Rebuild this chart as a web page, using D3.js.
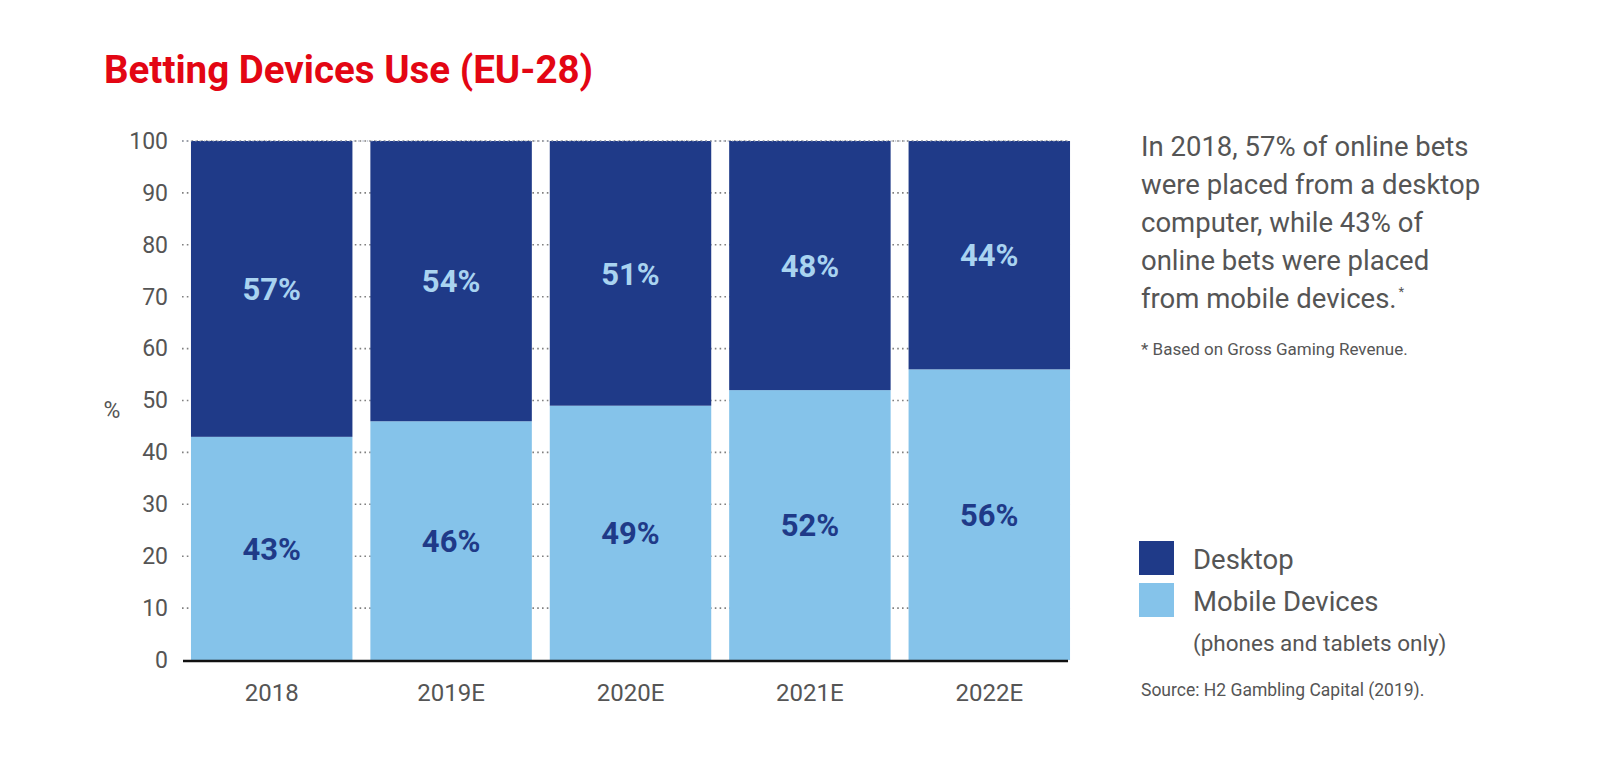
<!DOCTYPE html>
<html>
<head>
<meta charset="utf-8">
<script src="https://cdn.jsdelivr.net/npm/d3@7"></script>
<style>
  body { margin: 0; background: #fff; }
  text { font-family: Roboto, "Noto Sans", sans-serif; }
</style>
</head>
<body>
<script>
const years = ['2018', '2019E', '2020E', '2021E', '2022E'];
const desktop = [57, 54, 51, 48, 44];
const mobile = [43, 46, 49, 52, 56];
const yTicks = [0, 10, 20, 30, 40, 50, 60, 70, 80, 90, 100];

const colors = {desktop: '#1f3a88', mobile: '#85c3ea', text: '#555555'};

const width = 1600, height = 769;
const plot = {left: 182, right: 1079, top: 141, bottom: 660};

const svg = d3.select('body').append('svg')
  .attr('width', width)
  .attr('height', height)
  .attr('xmlns', 'http://www.w3.org/2000/svg');

const x = d3.scaleBand()
  .domain(years)
  .range([plot.left, plot.right])
  .paddingInner(0.1)
  .paddingOuter(0.05);

const y = d3.scaleLinear()
  .domain([0, 100])
  .range([plot.bottom, plot.top]);

const lastRight = x(years[years.length - 1]) + x.bandwidth();

// title
svg.append('text')
  .attr('x', 104)
  .attr('y', 83)
  .attr('font-size', 38.5)
  .attr('font-weight', 700)
  .attr('fill', '#e30613')
  .text('Betting Devices Use (EU-28)');

// dotted gridlines, behind the bars
svg.append('g')
  .selectAll('line')
  .data(yTicks.filter(d => d > 0))
  .enter()
  .append('line')
  .attr('x1', plot.left)
  .attr('x2', lastRight)
  .attr('y1', d => y(d))
  .attr('y2', d => y(d))
  .attr('stroke', '#808080')
  .attr('stroke-width', 1.6)
  .attr('stroke-dasharray', '1.6,3.2');

// y axis labels
const yAxis = d3.axisLeft(y).tickValues(yTicks).tickSize(0).tickPadding(14);
const gy = svg.append('g')
  .attr('transform', `translate(${plot.left},0)`)
  .call(yAxis);
gy.select('.domain').remove();
gy.selectAll('text')
  .attr('font-size', 23)
  .attr('fill', colors.text)
  .attr('font-family', 'Roboto, sans-serif');

svg.append('text')
  .attr('x', 112)
  .attr('y', 410)
  .attr('dy', '0.36em')
  .attr('text-anchor', 'middle')
  .attr('font-size', 23)
  .attr('fill', colors.text)
  .text('%');

// stacked bars
const rows = years.map((yr, i) => ({year: yr, mobile: mobile[i], desktop: desktop[i]}));
const stack = d3.stack().keys(['mobile', 'desktop']);
const series = stack(rows);

const layer = svg.append('g')
  .selectAll('g')
  .data(series)
  .enter()
  .append('g')
  .attr('fill', d => colors[d.key]);

layer.selectAll('rect')
  .data(d => d)
  .enter()
  .append('rect')
  .attr('x', d => x(d.data.year))
  .attr('width', x.bandwidth())
  .attr('y', d => y(d[1]))
  .attr('height', d => y(d[0]) - y(d[1]));

// dotted line along the top edge at 100
svg.append('line')
  .attr('x1', plot.left)
  .attr('x2', lastRight)
  .attr('y1', y(100))
  .attr('y2', y(100))
  .attr('stroke', '#9aa3b8')
  .attr('stroke-width', 1.2)
  .attr('stroke-dasharray', '1.4,3');

// value labels
series.forEach(s => {
  svg.append('g')
    .selectAll('text')
    .data(s)
    .enter()
    .append('text')
    .attr('x', d => x(d.data.year) + x.bandwidth() / 2)
    .attr('y', d => y((d[0] + d[1]) / 2))
    .attr('dy', '0.36em')
    .attr('text-anchor', 'middle')
    .attr('font-size', 31)
    .attr('font-weight', 700)
    .attr('fill', s.key === 'desktop' ? '#a9d3f0' : colors.desktop)
    .text(d => d.data[s.key] + '%');
});

// baseline
svg.append('line')
  .attr('x1', plot.left + 1)
  .attr('x2', lastRight - 2)
  .attr('y1', y(0) + 1)
  .attr('y2', y(0) + 1)
  .attr('stroke', '#111')
  .attr('stroke-width', 2.5);

// x axis labels
const xAxis = d3.axisBottom(x).tickSize(0).tickPadding(24);
const gx = svg.append('g')
  .attr('transform', `translate(0,${plot.bottom})`)
  .call(xAxis);
gx.select('.domain').remove();
gx.selectAll('text')
  .attr('font-size', 24)
  .attr('fill', colors.text)
  .attr('font-family', 'Roboto, sans-serif');

// side note
const note = ['In 2018, 57% of online bets', 'were placed from a desktop',
  'computer, while 43% of', 'online bets were placed', 'from mobile devices.'];
const noteText = svg.append('g')
  .selectAll('text')
  .data(note)
  .enter()
  .append('text')
  .attr('x', 1141)
  .attr('y', (d, i) => 156 + i * 38)
  .attr('font-size', 27.5)
  .attr('fill', colors.text)
  .text(d => d);
noteText.filter((d, i) => i === note.length - 1)
  .append('tspan')
  .attr('dx', 2)
  .attr('dy', -12)
  .attr('font-size', 13)
  .text('*');

svg.append('text')
  .attr('x', 1141)
  .attr('y', 355)
  .attr('font-size', 17)
  .attr('fill', colors.text)
  .text('* Based on Gross Gaming Revenue.');

// legend
const legendItems = [{key: 'desktop', label: 'Desktop'}, {key: 'mobile', label: 'Mobile Devices'}];
const legend = svg.append('g')
  .selectAll('g')
  .data(legendItems)
  .enter()
  .append('g')
  .attr('transform', (d, i) => `translate(1139,${541 + i * 42})`);
legend.append('rect')
  .attr('width', 35)
  .attr('height', 34)
  .attr('fill', d => colors[d.key]);
legend.append('text')
  .attr('x', 54)
  .attr('y', 28)
  .attr('font-size', 27.5)
  .attr('fill', colors.text)
  .text(d => d.label);

svg.append('text')
  .attr('x', 1193)
  .attr('y', 651)
  .attr('font-size', 22.5)
  .attr('fill', colors.text)
  .text('(phones and tablets only)');

svg.append('text')
  .attr('x', 1141)
  .attr('y', 696)
  .attr('font-size', 17.5)
  .attr('fill', colors.text)
  .text('Source: H2 Gambling Capital (2019).');
</script>
</body>
</html>
